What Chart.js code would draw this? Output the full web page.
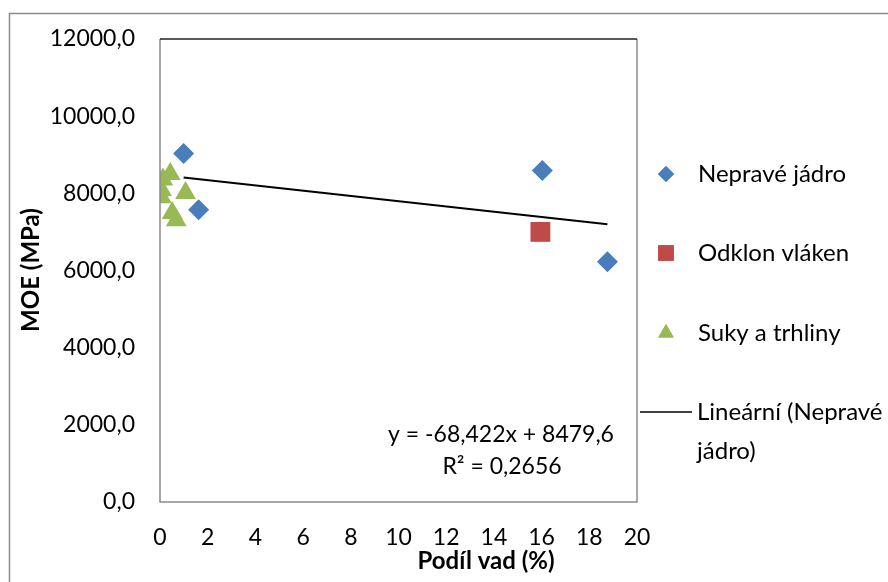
<!DOCTYPE html>
<html>
<head>
<meta charset="utf-8">
<script src="https://cdn.jsdelivr.net/npm/chart.js@4/dist/chart.umd.min.js"></script>
<style>
  html, body { margin: 0; padding: 0; background: #fff; }
  #wrap { width: 888px; height: 582px; position: relative; }
</style>
</head>
<body>
<div id="wrap"><canvas id="c" width="888" height="582"></canvas></div>
<script>
// Podíl vad (%) vs. MOE (MPa)
const nepraveX = [0.99, 1.62, 16.03, 18.76];
const nepraveY = [9030, 7576, 8589, 6227];

const odklonX = [15.95];
const odklonY = [7000];

const sukyX = [0.43, 0.12, 0.06, 0.06, 1.07, 0.51, 0.68];
const sukyY = [8500, 8360, 8085, 7900, 8010, 7490, 7300];

// linear trend of "Nepravé jádro": y = slope * x + intercept
const trendSlope = -68.422;
const trendIntercept = 8479.6;
const trendR2 = 0.2656;

const legendLabels = ['Nepravé jádro', 'Odklon vláken', 'Suky a trhliny', 'Lineární (Nepravé', 'jádro)'];
const xTitle = 'Podíl vad (%)';
const yTitle = 'MOE (MPa)';

const FONT = 'Lato, "Open Sans", sans-serif';

const toPoints = (xs, ys) => xs.map((x, i) => ({ x: x, y: ys[i] }));
const fmtComma = (v, d) => v.toFixed(d).replace('.', ',');

const tMin = Math.min(...nepraveX), tMax = Math.max(...nepraveX);
const trendPts = [tMin, tMax].map(x => ({ x: x, y: trendSlope * x + trendIntercept }));

const BLUE = '#4a7ebb', RED = '#be4b48', GREEN = '#98b954';

const frame = {
  id: 'frame',
  beforeDraw(chart) {
    const { ctx } = chart;
    ctx.save();
    // outer chart border
    ctx.strokeStyle = '#8c8c8c';
    ctx.lineWidth = 1.5;
    ctx.beginPath();
    ctx.moveTo(9.5, 600); ctx.lineTo(9.5, 13.5); ctx.lineTo(900, 13.5);
    ctx.stroke();
    ctx.restore();
  },
  afterDatasetsDraw(chart) {
    const { ctx, chartArea: a } = chart;
    ctx.save();
    ctx.lineWidth = 1.5;
    ctx.strokeStyle = '#8a8a8a';
    ctx.beginPath();
    ctx.moveTo(a.left, a.top); ctx.lineTo(a.left, a.bottom); ctx.lineTo(a.right, a.bottom); ctx.lineTo(a.right, a.top);
    ctx.stroke();
    ctx.strokeStyle = '#222';
    ctx.beginPath();
    ctx.moveTo(a.left, a.top); ctx.lineTo(a.right, a.top);
    ctx.stroke();

    // trend equation
    ctx.fillStyle = '#000';
    ctx.font = '23px ' + FONT;
    ctx.textAlign = 'center';
    ctx.textBaseline = 'middle';
    const eq = 'y = ' + fmtComma(trendSlope, 3) + 'x + ' + fmtComma(trendIntercept, 1);
    ctx.fillText(eq, 501, 435);
    ctx.fillText('R² = ' + fmtComma(trendR2, 4), 502, 467);

    // axis titles
    ctx.font = 'bold 24px ' + FONT;
    ctx.fillText(xTitle, 486, 561);
    ctx.save();
    ctx.translate(31, 270);
    ctx.rotate(-Math.PI / 2);
    ctx.fillText(yTitle, 0, 0);
    ctx.restore();

    // legend
    const ds = chart.data.datasets;
    const ys = [174, 253, 333];
    ctx.font = '24px ' + FONT;
    ctx.textAlign = 'left';
    for (let i = 0; i < 3; i++) {
      const d = ds[i];
      ctx.fillStyle = d.backgroundColor;
      Chart.helpers.drawPoint(ctx, { pointStyle: d.pointStyle, radius: d.legendRadius, rotation: 0, borderWidth: 0 }, 666, ys[i]);
      ctx.fill();
      ctx.fillStyle = '#000';
      ctx.fillText(legendLabels[i], 698, ys[i]);
    }
    ctx.strokeStyle = '#000';
    ctx.lineWidth = 1.5;
    ctx.beginPath();
    ctx.moveTo(640, 412); ctx.lineTo(692, 412);
    ctx.stroke();
    ctx.fillText(legendLabels[3], 697, 412);
    ctx.fillText(legendLabels[4], 697, 451);
    ctx.restore();
  }
};

new Chart(document.getElementById('c'), {
  type: 'scatter',
  data: {
    datasets: [
      { label: legendLabels[0], data: toPoints(nepraveX, nepraveY), pointStyle: 'rectRot', pointRadius: 10.5, legendRadius: 8,
        backgroundColor: BLUE, borderColor: BLUE, borderWidth: 0, order: 2 },
      { label: legendLabels[1], data: toPoints(odklonX, odklonY), pointStyle: 'rect', pointRadius: 14, legendRadius: 11,
        backgroundColor: RED, borderColor: RED, borderWidth: 0, order: 3 },
      { label: legendLabels[2], data: toPoints(sukyX, sukyY), pointStyle: 'triangle', pointRadius: 12, legendRadius: 9,
        backgroundColor: GREEN, borderColor: GREEN, borderWidth: 0, order: 4 },
      { type: 'line', label: legendLabels[3], data: trendPts, borderColor: '#000', borderWidth: 2,
        pointRadius: 0, fill: false, order: 1 }
    ]
  },
  options: {
    responsive: false,
    animation: false,
    events: [],
    layout: { padding: { left: 0, top: 39, right: 251, bottom: 0 } },
    plugins: { legend: { display: false }, tooltip: { enabled: false } },
    scales: {
      x: {
        type: 'linear', min: 0, max: 20,
        grid: { display: false, drawTicks: false },
        border: { display: false },
        ticks: { stepSize: 2, padding: 22, color: '#000', font: { family: FONT, size: 23 }, maxRotation: 0 },
        afterFit(s) { s.height = 80; }
      },
      y: {
        type: 'linear', min: 0, max: 12000,
        grid: { display: false, drawTicks: false },
        border: { display: false },
        ticks: { stepSize: 2000, padding: 25, color: '#000', font: { family: FONT, size: 23 },
                 callback: v => fmtComma(v, 1) },
        afterFit(s) { s.width = 160; }
      }
    }
  },
  plugins: [frame]
});
</script>
</body>
</html>
